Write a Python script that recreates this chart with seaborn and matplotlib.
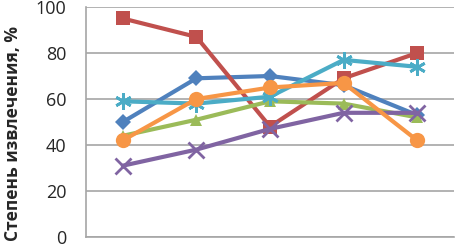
import matplotlib
matplotlib.use("Agg")
import matplotlib.pyplot as plt
import seaborn as sns
import pandas as pd

categories = [1, 2, 3, 4, 5]
blue = [50, 69, 70, 66, 53]
red = [95, 87, 48, 69, 80]
green = [44, 51, 59, 58, 52]
purple = [31, 38, 47, 54, 54]
cyan = [59, 58, 61, 77, 74]
orange = [42, 60, 65, 67, 42]

series = {"s1": blue, "s2": red, "s3": green, "s4": purple, "s5": cyan, "s6": orange}
colors = {"s1": "#4F81BD", "s2": "#C0504D", "s3": "#9BBB59", "s4": "#8064A2",
          "s5": "#4BACC6", "s6": "#F79646"}
markers = {"s1": "D", "s2": "s", "s3": "^", "s4": "x", "s5": (6, 2, 0), "s6": "o"}
msize = {"s1": 8, "s2": 10, "s3": 9, "s4": 11, "s5": 12, "s6": 11}

rows = []
for name, vals in series.items():
    for i, v in enumerate(vals):
        rows.append({"x": i, "y": v, "series": name})
df = pd.DataFrame(rows)

sns.set_style("white")
plt.rcParams['font.family'] = ['Open Sans', 'DejaVu Sans']

fig = plt.figure(figsize=(4.55, 2.44), dpi=100)
ax = fig.add_axes([86/455, 7/244, 368/455, 230/244])

for name in series:
    sub = df[df["series"] == name]
    m = markers[name]
    is_line_marker = m == "x" or isinstance(m, tuple)
    sns.lineplot(data=sub, x="x", y="y", ax=ax, color=colors[name], linewidth=3,
                 marker=m, markersize=msize[name],
                 markeredgewidth=2 if is_line_marker else 0,
                 markeredgecolor=colors[name], legend=False)

ax.set_xlim(-0.5, 4.5)
ax.set_ylim(0, 100)
ax.set_yticks([0, 20, 40, 60, 80, 100])
ax.set_xticks([-0.5, 0.5, 1.5, 2.5, 3.5, 4.5])
ax.set_xticklabels([])
ax.grid(axis="y", color="#a6a6a6", linewidth=1.2)
ax.set_axisbelow(True)
for s in ["top", "right"]:
    ax.spines[s].set_visible(False)
for s in ["left", "bottom"]:
    ax.spines[s].set_color("#a6a6a6")
    ax.spines[s].set_linewidth(1.2)
ax.tick_params(axis="both", direction="out", length=5, width=1.2, color="#a6a6a6",
               labelsize=13)
ax.tick_params(axis="y", pad=9)
ax.set_xlabel("")
ax.set_ylabel("Степень извлечения, %", fontsize=12.5, fontweight="bold")
ax.yaxis.set_label_coords(-0.174, 0.45)

fig.savefig("out.png", dpi=100)
